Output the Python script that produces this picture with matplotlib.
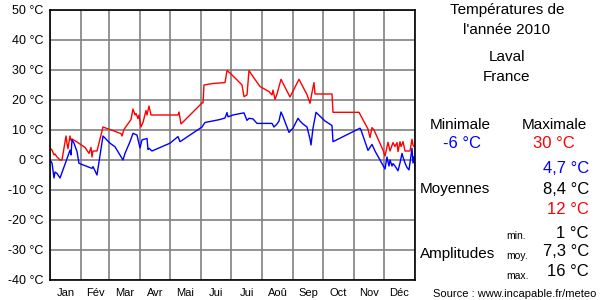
import numpy as np
import matplotlib
matplotlib.use("Agg")
from matplotlib import pyplot as plt

plt.rcParams['font.family'] = ['Liberation Sans', 'DejaVu Sans']

# daily max (red) and min (blue), day of year -> °C
max_days = [0, 2, 4, 5, 7, 10, 12, 16, 17, 18, 20, 21, 22, 27, 35, 39, 41, 42, 43, 47,
            53, 57, 63, 71, 72, 74, 81, 83, 85, 86, 88, 89, 91, 93, 96, 97, 99, 101,
            128, 129, 131, 152, 153, 154, 163, 175, 177, 180, 187, 192, 194, 197, 199,
            203, 210, 219, 222, 223, 225, 227, 231, 240, 249, 257, 260, 262, 264, 265,
            282, 283, 309, 318, 320, 322, 324, 333, 335, 338, 340, 343, 345, 347, 348,
            350, 351, 353, 355, 360, 362, 363, 365]
max_temp = [4.0, 3.3, 1.7, 2.0, 1.0, 0.0, 0.0, 8.0, 5.5, 3.8, 8.0, 6.5, 7.0, 6.0, 4.2,
            2.2, 4.2, 1.0, 3.0, 3.0, 11.0, 10.5, 9.8, 8.8, 8.0, 10.2, 13.5, 17.0, 15.0,
            15.5, 13.8, 15.0, 11.0, 12.5, 16.5, 15.0, 18.0, 15.0, 15.0, 16.0, 12.0, 19.0,
            19.0, 25.0, 25.5, 25.8, 29.8, 29.0, 26.7, 25.0, 21.1, 21.7, 29.8, 27.8, 24.5,
            22.8, 21.7, 23.3, 20.2, 22.0, 26.9, 21.0, 26.9, 21.8, 18.9, 22.5, 25.8, 22.0,
            22.0, 15.9, 15.9, 10.3, 7.5, 10.8, 10.0, 3.3, 1.3, 5.9, 3.0, 5.8, 4.5, 5.8,
            2.8, 6.1, 4.5, 6.1, 3.0, 3.0, 6.9, 5.0, 4.0]

min_days = [0, 2, 4, 5, 7, 10, 16, 20, 21, 22, 24, 27, 29, 42, 43, 47, 53, 60, 65, 73,
            75, 80, 83, 87, 90, 92, 97, 98, 99, 102, 120, 128, 130, 152, 155, 170, 175,
            177, 178, 183, 192, 194, 197, 199, 203, 207, 222, 224, 227, 229, 231, 233,
            239, 243, 248, 250, 253, 255, 257, 260, 261, 263, 266, 275, 282, 283, 310,
            311, 318, 322, 325, 335, 337, 338, 339, 340, 342, 343, 345, 348, 350, 352,
            353, 355, 357, 359, 361, 362, 363, 364, 365]
min_temp = [0.0, -1.0, -6.0, -4.0, -4.5, -6.0, -0.5, 3.3, 1.7, 6.7, 5.6, 2.8, -1.1, -2.8,
            -2.2, -5.0, 8.0, 5.6, 4.4, 0.0, 2.2, 6.1, 8.9, 8.3, 4.0, 6.7, 7.2, 3.5, 3.9,
            3.0, 5.6, 7.8, 6.1, 11.0, 12.5, 13.5, 14.0, 15.8, 14.4, 15.0, 15.6, 15.7, 13.2,
            13.9, 13.7, 12.2, 12.2, 11.0, 12.0, 13.0, 16.0, 14.5, 9.2, 10.6, 13.9, 13.0,
            12.0, 11.5, 11.0, 7.0, 5.0, 10.6, 15.9, 13.0, 11.5, 6.1, 10.6, 10.0, 3.2, 5.2,
            3.0, -3.0, 1.0, -0.6, -2.0, 0.0, -2.0, -1.2, -2.0, -3.6, -1.0, 2.2, 1.0, -1.0,
            -2.5, -3.3, 1.5, 3.9, -1.0, 1.1, -2.2]

month_starts = [0, 31, 59, 90, 120, 151, 181, 212, 243, 273, 304, 334, 365]
month_labels = ['Jan', 'Fév', 'Mar', 'Avr', 'Mai', 'Jui', 'Jui', 'Aoû', 'Sep', 'Oct',
                'Nov', 'Déc']
y_ticks = list(range(-40, 51, 10))

fig = plt.figure(figsize=(6, 3), dpi=100)
ax = fig.add_axes([50/600, 20/300, 365/600, 270/300])

ax.plot(max_days, max_temp, color='#ff0000', lw=1.0)
ax.plot(min_days, min_temp, color='#0000ff', lw=1.0)

ax.set_xlim(0, 365)
ax.set_ylim(-40, 50)
ax.set_yticks(y_ticks)
ax.set_yticklabels([f'{t} °C' for t in y_ticks], fontsize=9)
ax.set_xticks(month_starts)
ax.set_xticklabels([])
mids = [(a + b) / 2 for a, b in zip(month_starts[:-1], month_starts[1:])]
ax.set_xticks(mids, minor=True)
ax.set_xticklabels(month_labels, minor=True, fontsize=8)
ax.tick_params(axis='both', which='both', length=0, pad=5)
ax.tick_params(axis='x', which='minor', pad=6)
ax.grid(True, which='major', color='#808080', lw=1.2)
ax.set_axisbelow(True)
for s in ax.spines.values():
    s.set_color('black')
    s.set_linewidth(1.2)


def txt(x, y, s, **kw):
    fig.text(x/600, 1 - y/300, s, va='center', **kw)


txt(507, 10, 'Températures de', ha='center', fontsize=11)
txt(507, 30, "l'année 2010", ha='center', fontsize=11)
txt(507, 57, 'Laval', ha='center', fontsize=11)
txt(507, 77, 'France', ha='center', fontsize=11)

txt(460, 125, 'Minimale', ha='center', fontsize=11)
txt(554, 125, 'Maximale', ha='center', fontsize=11)
txt(462, 143, '-6 °C', ha='center', fontsize=12, color='#0000ff')
txt(554, 143, '30 °C', ha='center', fontsize=12, color='#ff0000')

txt(589, 168, '4,7 °C', ha='right', fontsize=12, color='#0000ff')
txt(589, 189, '8,4 °C', ha='right', fontsize=12)
txt(589, 209, '12 °C', ha='right', fontsize=12, color='#ff0000')
txt(420, 189, 'Moyennes', ha='left', fontsize=11)

txt(420, 254, 'Amplitudes', ha='left', fontsize=11)
txt(506, 236, 'min.', ha='left', fontsize=7.5)
txt(506, 256, 'moy.', ha='left', fontsize=7.5)
txt(506, 276, 'max.', ha='left', fontsize=7.5)
txt(589, 233, '1 °C', ha='right', fontsize=12)
txt(589, 252, '7,3 °C', ha='right', fontsize=12)
txt(589, 272, '16 °C', ha='right', fontsize=12)

txt(596, 294, 'Source : www.incapable.fr/meteo', ha='right', fontsize=8)

fig.savefig('out.png', dpi=100)
